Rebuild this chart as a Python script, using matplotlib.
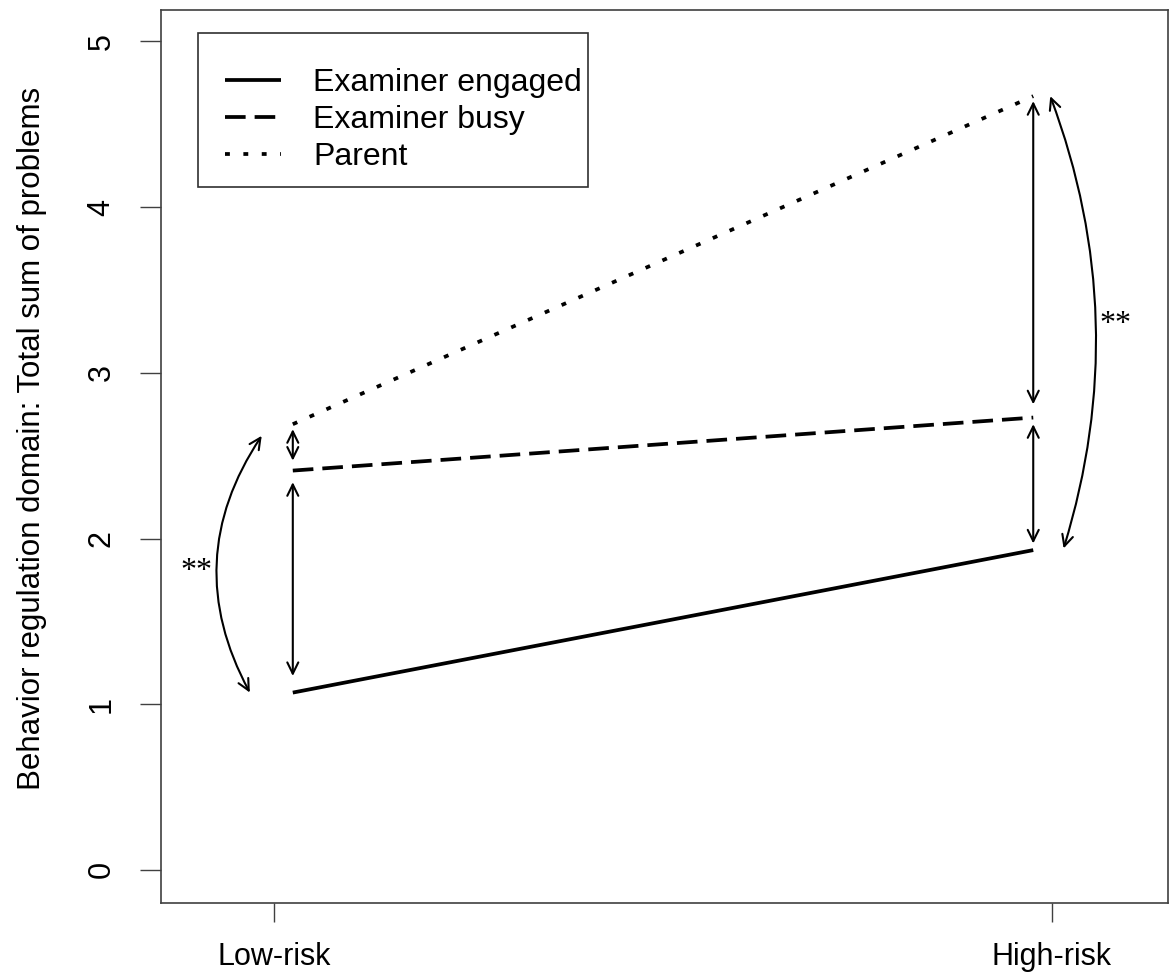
import matplotlib
matplotlib.use('Agg')
import matplotlib.pyplot as plt
from matplotlib.patches import FancyArrowPatch, Rectangle

plt.rcParams['font.family'] = ['Liberation Sans', 'DejaVu Sans']

# data
groups = ['Low-risk', 'High-risk']
tick_pos = [0.975, 2.025]
xpos = [1, 2]
engaged = [1.07, 1.93]
busy = [2.41, 2.73]
parent = [2.69, 4.67]
labels = ['Examiner engaged', 'Examiner busy', 'Parent']
yticks = [0, 1, 2, 3, 4, 5]

fig = plt.figure(figsize=(11.72, 9.77), dpi=100)
ax = fig.add_axes([161/1172, 74/977, 1007/1172, 893/977])

ax.plot(xpos, engaged, color='black', lw=2.7, solid_capstyle='butt', label=labels[0])
ax.plot(xpos, busy, color='black', lw=2.7, dashes=(5.5, 2.4), dash_capstyle='butt', label=labels[1])
ax.plot(xpos, parent, color='black', lw=2.7, dashes=(1.3, 3.6), dash_capstyle='butt', label=labels[2])


def arrow(p0, p1, rad=0.0):
    ax.add_patch(FancyArrowPatch(p0, p1, arrowstyle='<->,head_length=0.45,head_width=0.22',
                                 mutation_scale=18, connectionstyle='arc3,rad=%s' % rad,
                                 lw=1.5, color='black', shrinkA=0, shrinkB=0))


# vertical double arrows between conditions
arrow((xpos[0], parent[0] - 0.03), (xpos[0], busy[0] + 0.06))
arrow((xpos[0], busy[0] - 0.07), (xpos[0], engaged[0] + 0.10))
arrow((xpos[1], parent[1] - 0.03), (xpos[1], busy[1] + 0.08))
arrow((xpos[1], busy[1] - 0.04), (xpos[1], engaged[1] + 0.04))

# curved brackets
arrow((0.958, parent[0] - 0.07), (0.942, engaged[0]), rad=0.30)
arrow((2.023, parent[1]), (2.041, engaged[1] + 0.01), rad=-0.17)
ax.text(0.870, 1.80, '**', fontsize=23, family='Liberation Serif', ha='center', va='center')
ax.text(2.111, 3.29, '**', fontsize=23, family='Liberation Serif', ha='center', va='center')

ax.set_xlim(0.822, 2.182)
ax.set_ylim(-0.2, 5.19)
ax.set_xticks(tick_pos, groups, fontsize=22)
ax.set_yticks(yticks)
ax.set_yticklabels([str(v) for v in yticks], fontsize=22, rotation=90, va='center')
ax.tick_params(axis='x', length=14, width=1.0, color='#404040', pad=14)
ax.tick_params(axis='y', length=15, width=1.0, color='#404040', pad=17)
for s in ax.spines.values():
    s.set_color('#404040')
    s.set_linewidth(1.2)

ax.set_ylabel('Behavior regulation domain: Total sum of problems', fontsize=22.5)
ax.yaxis.set_label_coords(-0.113, 0.52)

# legend content without frame, frame drawn separately to match the reference box
leg = ax.legend(loc='upper left', bbox_to_anchor=(0.0636, 0.935), borderaxespad=0,
                fontsize=23, handlelength=1.75, handletextpad=1.0, labelspacing=0.22,
                borderpad=0, frameon=False)
ax.add_patch(Rectangle((37/1007, 716/893), 390/1007, 154/893, transform=ax.transAxes,
                       fill=False, edgecolor='#303030', lw=1.2, zorder=6))

plt.savefig('out.png', dpi=100)
